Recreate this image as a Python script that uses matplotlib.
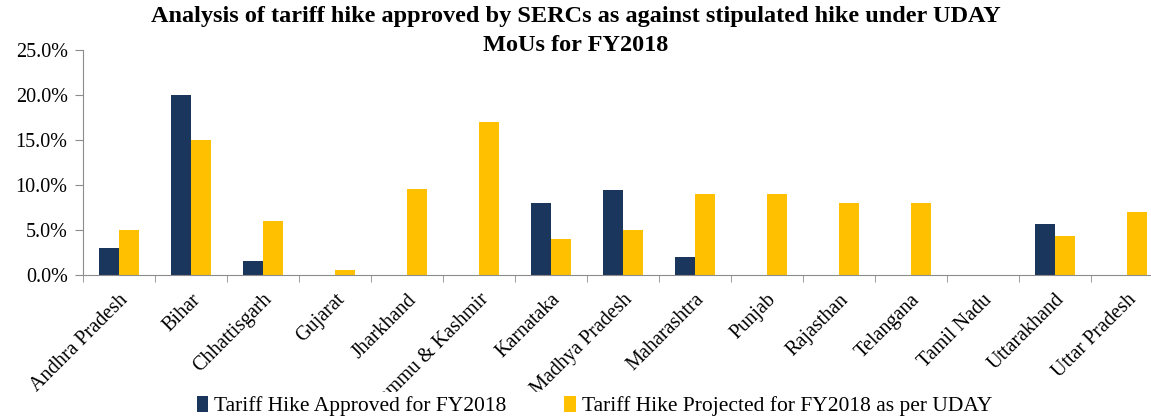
import matplotlib.pyplot as plt
import numpy as np
from matplotlib.ticker import PercentFormatter, FixedLocator

plt.rcParams['font.family'] = ['Liberation Serif', 'DejaVu Serif']

# Data
states = ['Andhra Pradesh', 'Bihar', 'Chhattisgarh', 'Gujarat', 'Jharkhand',
          'Jammu & Kashmir', 'Karnataka', 'Madhya Pradesh', 'Maharashtra',
          'Punjab', 'Rajasthan', 'Telangana', 'Tamil Nadu', 'Uttarakhand',
          'Uttar Pradesh']
approved = [3.0, 20.0, 1.5, 0.0, 0.0, 0.0, 8.0, 9.4, 2.0, 0.0, 0.0, 0.0, 0.0, 5.7, 0.0]
projected = [5.0, 15.0, 6.0, 0.5, 9.6, 17.0, 4.0, 5.0, 9.0, 9.0, 8.0, 8.0, 0.0, 4.3, 7.0]

navy = '#1b365d'
gold = '#ffc000'
grey = '#8c8c8c'

fig = plt.figure(figsize=(11.51, 4.19), dpi=100)
ax = fig.add_axes([0.0721, 0.3437, 0.938, 0.537])

x = np.arange(len(states))
w = 0.278
ax.bar(x - w / 2, approved, w, color=navy, label='Tariff Hike Approved for FY2018')
ax.bar(x + w / 2, projected, w, color=gold, label='Tariff Hike Projected for FY2018 as per UDAY')

ax.set_xlim(-0.5, len(states) - 0.5)
ax.set_ylim(0, 25)
ax.set_yticks(np.arange(0, 26, 5))
ax.yaxis.set_major_formatter(PercentFormatter(decimals=1))

ax.set_xticks(x)
ax.set_xticklabels(states, rotation=45, ha='right', rotation_mode='anchor', fontsize=14.5)
ax.tick_params(axis='x', which='major', length=0, pad=11)
ax.xaxis.set_minor_locator(FixedLocator(np.arange(-0.5, len(states), 1)))
ax.tick_params(axis='x', which='minor', length=5, color=grey)
ax.tick_params(axis='y', labelsize=14.5, length=6, color=grey, pad=5)

for s in ['top', 'right']:
    ax.spines[s].set_visible(False)
for s in ['left', 'bottom']:
    ax.spines[s].set_color(grey)

fig.suptitle('Analysis of tariff hike approved by SERCs as against stipulated hike under UDAY\nMoUs for FY2018',
             fontsize=17.5, fontweight='bold', y=0.985, x=0.5, linespacing=1.5)

leg = fig.legend(loc='center left', bbox_to_anchor=(0.168, 0.031), ncol=2,
                 frameon=True, fontsize=15.5, handlelength=0.55, handleheight=0.8,
                 handletextpad=0.25, columnspacing=2.7, borderpad=0.15, borderaxespad=0)
leg.get_frame().set_facecolor('white')
leg.get_frame().set_edgecolor('none')
leg.get_frame().set_alpha(1)

fig.savefig('out.png', dpi=100)
